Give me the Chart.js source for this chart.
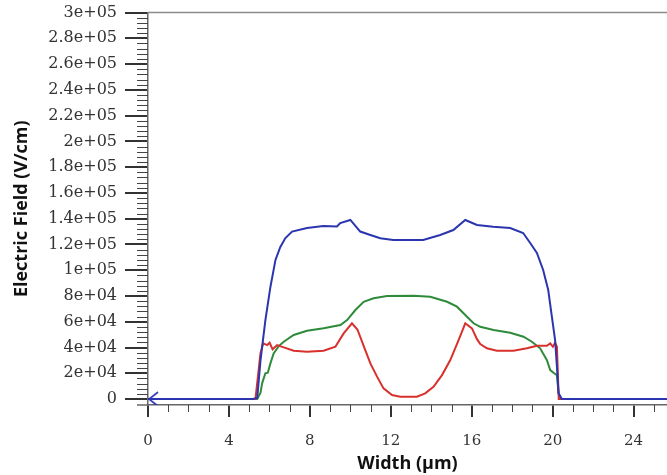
<!DOCTYPE html>
<html>
<head>
<meta charset="utf-8">
<script src="https://cdn.jsdelivr.net/npm/chart.js@4.4.1/dist/chart.umd.min.js"></script>
<style>
  html, body { margin: 0; padding: 0; background: #fff; }
  #wrap { width: 667px; height: 475px; }
</style>
</head>
<body>
<div id="wrap"><canvas id="fieldChart" width="667" height="475"></canvas></div>
<script>
// Electric field profiles (x in µm, y in V/cm)
const blueX = [0, 5.2, 5.4, 5.56, 5.8, 6.05, 6.3, 6.54, 6.79, 7.12, 7.86, 8.67, 9.34, 9.5, 10.0, 10.49, 10.99, 11.48, 12.12, 13.6, 14.44, 15.09, 15.68, 16.26, 17.06, 17.9, 18.54, 18.89, 19.22, 19.53, 19.78, 19.96, 20.12, 20.21, 20.29, 20.45, 25.65];
const blueY = [0, 0, 1000, 30000, 61000, 87000, 108000, 118000, 125000, 130000, 132800, 134300, 133900, 136600, 139000, 130000, 127300, 124800, 123400, 123400, 127300, 131200, 139000, 135100, 133800, 132800, 128900, 121100, 113400, 100200, 84600, 64000, 45800, 25100, 4700, 0, 0];

const redX = [0, 5.31, 5.56, 5.69, 5.89, 6.01, 6.16, 6.38, 6.71, 7.2, 7.86, 8.68, 9.26, 9.67, 10.08, 10.35, 10.7, 10.99, 11.32, 11.64, 12.06, 12.47, 13.29, 13.7, 14.11, 14.53, 14.94, 15.35, 15.68, 16.01, 16.26, 16.42, 16.75, 17.24, 18.06, 18.73, 19.22, 19.71, 19.88, 20.01, 20.12, 20.21, 20.3, 25.65];
const redY = [0, 0, 35700, 43200, 41900, 43700, 38600, 41900, 40100, 37500, 36700, 37500, 40600, 51000, 58800, 54000, 39500, 27700, 17400, 8300, 3100, 1800, 1800, 4400, 9500, 18600, 30300, 45800, 58800, 54900, 46500, 42700, 39400, 37500, 37500, 39400, 41400, 41400, 43200, 40600, 43700, 40600, 0, 0];

const greenX = [0, 5.4, 5.56, 5.64, 5.8, 5.92, 6.05, 6.21, 6.46, 6.71, 7.2, 7.86, 8.68, 9.51, 9.84, 10.25, 10.66, 11.15, 11.81, 13.13, 13.95, 14.78, 15.27, 15.68, 16.09, 16.42, 17.08, 17.9, 18.56, 18.97, 19.38, 19.71, 19.88, 20.04, 20.21, 20.29, 20.37, 25.65];
const greenY = [0, 0, 5000, 12200, 20000, 20500, 27700, 35500, 41100, 44500, 49700, 53000, 54900, 57500, 61300, 69100, 75500, 78200, 80000, 80200, 79400, 75500, 71700, 65200, 58800, 56100, 53600, 51500, 48400, 44500, 39400, 30300, 22500, 20400, 18600, 4400, 0, 0];

// axis ticks
const xTickValues = [0, 4, 8, 12, 16, 20, 24];
const yTickValues = [0, 20000, 40000, 60000, 80000, 100000, 120000, 140000, 160000, 180000, 200000, 220000, 240000, 260000, 280000, 300000];
const yTickLabels = ["0", "2e+04", "4e+04", "6e+04", "8e+04", "1e+05", "1.2e+05", "1.4e+05", "1.6e+05", "1.8e+05", "2e+05", "2.2e+05", "2.4e+05", "2.6e+05", "2.8e+05", "3e+05"];

const xMinor = [];
for (let v = 1; v <= 25; v++) if (v % 4 !== 0) xMinor.push(v);
const yMinor = [];
for (let v = 4000; v < 300000; v += 4000) if (v % 20000 !== 0) yMinor.push(v);

const toPoints = (xs, ys) => xs.map((x, i) => ({ x, y: ys[i] }));

// small "<" marker at the start of the blue line
const arrow = document.createElement("canvas");
arrow.width = 28;
arrow.height = 18;
const actx = arrow.getContext("2d");
actx.strokeStyle = "#2b35b0";
actx.lineWidth = 1.6;
actx.beginPath();
actx.moveTo(24, 2);
actx.lineTo(15, 9);
actx.lineTo(24, 16);
actx.stroke();

const axisExtras = {
  id: "axisExtras",
  afterDraw(chart) {
    const { ctx, chartArea, scales } = chart;
    const x = scales.x, y = scales.y;
    ctx.save();
    ctx.strokeStyle = "#444";
    ctx.lineWidth = 1;
    ctx.beginPath();
    yMinor.forEach((v) => {
      const py = Math.round(y.getPixelForValue(v)) + 0.5;
      ctx.moveTo(chartArea.left - 11, py);
      ctx.lineTo(chartArea.left, py);
    });
    xMinor.forEach((v) => {
      const px = Math.round(x.getPixelForValue(v)) + 0.5;
      ctx.moveTo(px, chartArea.bottom);
      ctx.lineTo(px, chartArea.bottom + 7);
    });
    ctx.stroke();

    ctx.strokeStyle = "#8a8a8a";
    ctx.lineWidth = 1.5;
    ctx.beginPath();
    ctx.moveTo(chartArea.left, chartArea.top);
    ctx.lineTo(chartArea.right, chartArea.top);
    ctx.stroke();

    ctx.strokeStyle = "#666";
    ctx.beginPath();
    ctx.moveTo(chartArea.left - 11, chartArea.bottom);
    ctx.lineTo(chartArea.left, chartArea.bottom);
    ctx.stroke();
    ctx.restore();
  },
};

const ctx = document.getElementById("fieldChart").getContext("2d");

new Chart(ctx, {
  type: "line",
  data: {
    datasets: [
      {
        label: "blue",
        data: toPoints(blueX, blueY),
        borderColor: "#2b35b0",
        borderWidth: 2,
        pointRadius: (c) => (c.dataIndex === 0 ? 6 : 0),
        pointStyle: (c) => (c.dataIndex === 0 ? arrow : false),
        tension: 0,
      },
      {
        label: "red",
        data: toPoints(redX, redY),
        borderColor: "#d8302c",
        borderWidth: 2,
        pointRadius: 0,
        tension: 0,
      },
      {
        label: "green",
        data: toPoints(greenX, greenY),
        borderColor: "#2e8b3a",
        borderWidth: 2,
        pointRadius: 0,
        tension: 0,
      },
    ],
  },
  options: {
    responsive: false,
    animation: false,
    layout: { padding: 0, autoPadding: false },
    plugins: {
      legend: { display: false },
      tooltip: { enabled: false },
    },
    scales: {
      x: {
        type: "linear",
        min: 0,
        max: 25.65,
        afterBuildTicks: (s) => {
          s.ticks = xTickValues.map((v) => ({ value: v }));
        },
        afterFit: (s) => {
          s.height = 70;
          s.paddingLeft = 0;
          s.paddingRight = 0;
        },
        ticks: {
          autoSkip: false,
          maxRotation: 0,
          padding: 15,
          color: "#333",
          font: { family: "DejaVu Serif", size: 15 },
        },
        grid: {
          drawOnChartArea: false,
          drawTicks: true,
          tickLength: 12,
          lineWidth: 2,
          color: "#333",
        },
        border: { display: true, color: "#666", width: 1.5 },
        title: {
          display: true,
          text: "Width (µm)",
          color: "#111",
          padding: { top: 0, bottom: 0 },
          font: { family: "Open Sans", size: 18, weight: "bold" },
        },
      },
      y: {
        min: -4600,
        max: 300000,
        afterBuildTicks: (s) => {
          s.ticks = yTickValues.map((v) => ({ value: v }));
        },
        afterFit: (s) => {
          s.width = 148;
          s.paddingTop = 12.5;
          s.paddingBottom = 0;
        },
        ticks: {
          autoSkip: false,
          padding: 8,
          color: "#333",
          font: { family: "DejaVu Serif", size: 16 },
          callback: (v) => yTickLabels[yTickValues.indexOf(v)],
        },
        grid: {
          drawOnChartArea: false,
          drawTicks: true,
          tickLength: 23,
          lineWidth: 2,
          color: "#333",
        },
        border: { display: true, color: "#666", width: 1.5 },
        title: {
          display: true,
          text: "Electric Field (V/cm)",
          color: "#111",
          padding: { top: 11, bottom: 0 },
          font: { family: "Open Sans", size: 18, weight: "bold" },
        },
      },
    },
  },
  plugins: [axisExtras],
});
</script>
</body>
</html>
